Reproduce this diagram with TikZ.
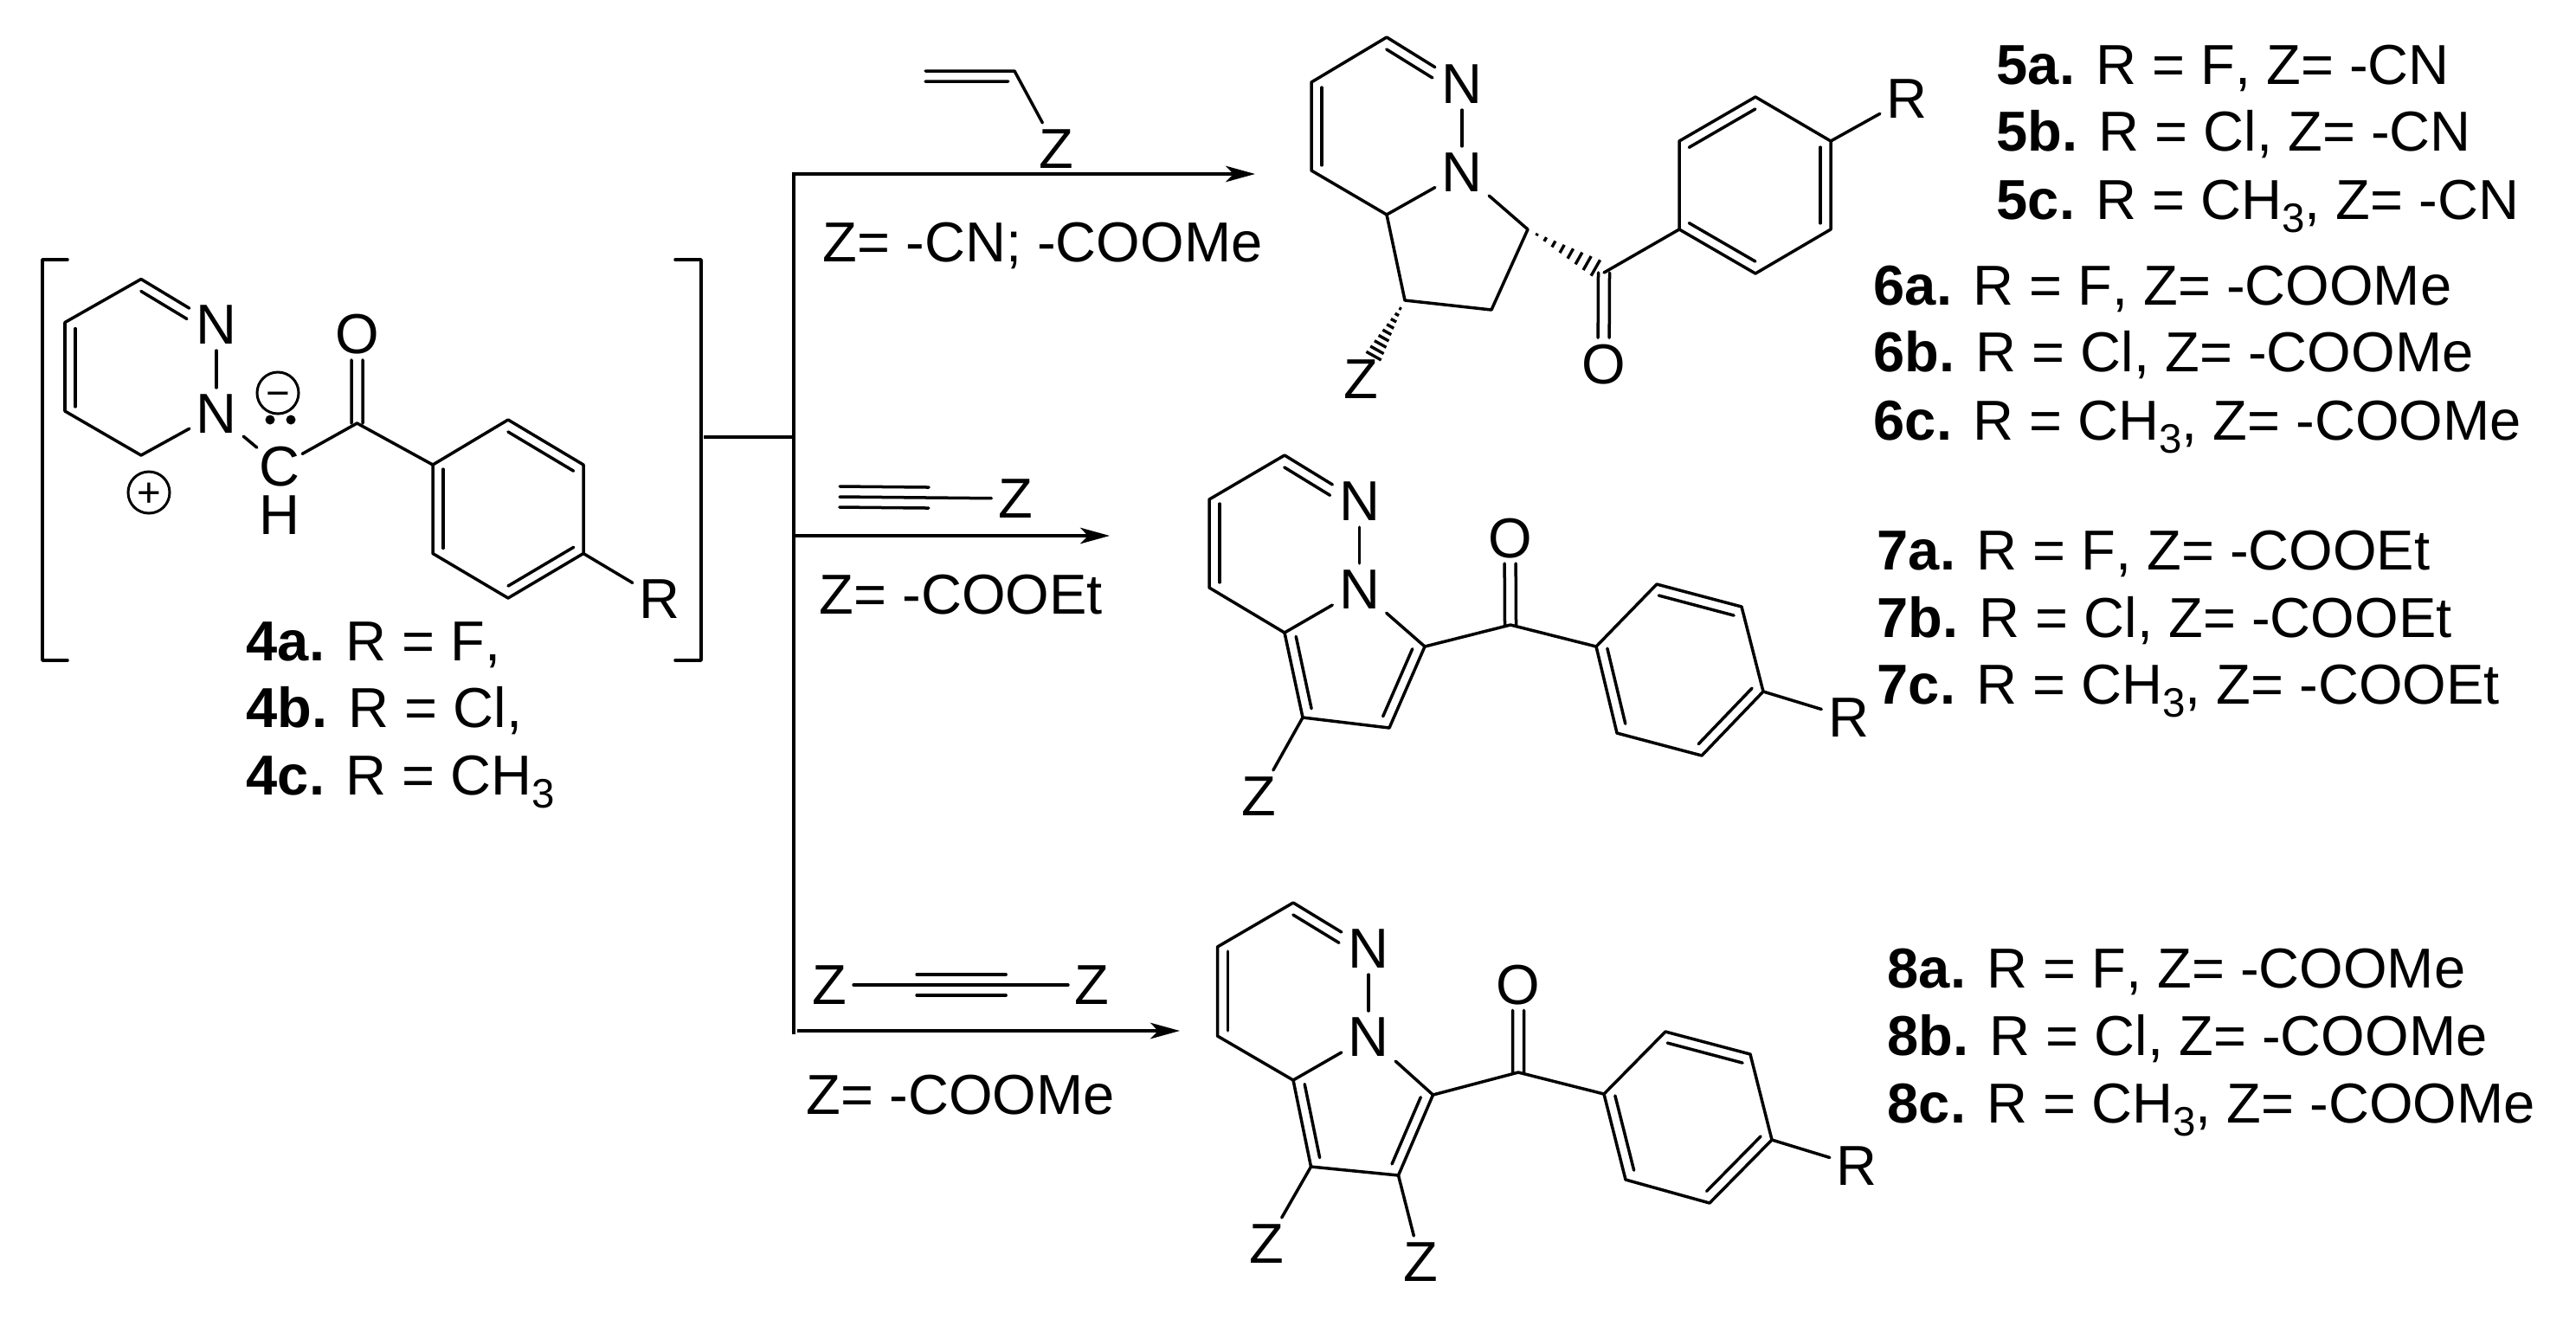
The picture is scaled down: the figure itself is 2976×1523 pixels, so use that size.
\documentclass[tikz,border=0pt]{standalone}
\usepackage{fontspec}
\setmainfont[Kerning=Off]{Liberation Sans}
\usetikzlibrary{calc,arrows.meta}
\newcommand{\dbl}[5]{\draw[bond] ($(#1)!#3!(#2)!0.12cm!#5:(#2)$) -- ($(#1)!#4!(#2)!0.12cm!#5:(#2)$);}
\newcommand{\cdo}[2]{%
  \draw[bond] ($(#1)!0!(#2)!0.065cm!90:(#2)$) -- ($(#1)!0.71!(#2)!0.065cm!90:(#2)$);
  \draw[bond] ($(#1)!0!(#2)!0.065cm!-90:(#2)$) -- ($(#1)!0.71!(#2)!0.065cm!-90:(#2)$);}
\newcommand{\hashb}[4]{%
  \coordinate (hA) at ($(#2)!#3!90:(#1)$);
  \coordinate (hB) at ($(#2)!#3!-90:(#1)$);
  \foreach \t in {#4} \draw[hashline] ($(#1)!\t!(hA)$) -- ($(#1)!\t!(hB)$);}
\newcommand{\sbt}{\raisebox{-0.15cm}{\fontsize{13.5}{16}\selectfont 3}}
\begin{document}
\begin{tikzpicture}[x=0.01cm,y=-0.01cm,
  bond/.style={line width=0.035cm,line cap=round,line join=round},
  hashline/.style={line width=0.034cm},
  conn/.style={line width=0.04cm,line join=miter},
  arr/.style={conn,-{Stealth[length=0.34cm,width=0.185cm,inset=0.09cm]}},
  atom/.style={font=\fontsize{18.5}{22}\selectfont,inner sep=0.07cm},
  tight/.style={atom,inner sep=0.02cm},
  lab/.style={font=\fontsize{18.5}{22}\selectfont,inner sep=0pt,anchor=base west},
  charge/.style={circle,draw,line width=0.03cm,minimum size=0.48cm,inner sep=0pt,text height=0.336cm,text depth=0pt,font=\fontsize{13.5}{16}\selectfont},
  lp/.style={circle,fill=black,minimum size=0.11cm,inner sep=0pt}]
\useasboundingbox (0,0) rectangle (2976,1523);

% ---------- scaffold and arrows
\coordinate (ttop) at (917,201);
\coordinate (tbot) at (917,1195);
\coordinate (e1) at (1450,201);
\coordinate (s2) at (917,619);
\coordinate (e2) at (1282,619);
\coordinate (s3) at (921,1191);
\coordinate (e3) at (1363,1191);
\coordinate (brk) at (813,505);
\coordinate (jn) at (917,505);
\draw[arr] (tbot) -- (ttop) -- (e1);
\draw[arr] (s2) -- (e2);
\draw[arr] (s3) -- (e3);
\draw[conn] (brk) -- (jn);
\draw[bond] (78,300) -- (49,300) -- (49,763) -- (78,763);
\draw[bond] (780,300) -- (810,300) -- (810,763) -- (780,763);

% ---------- compound 4
\coordinate (Aa) at (163,322.5); \coordinate (Ab) at (75,372.5);
\coordinate (Ac) at (75,475); \coordinate (Ad) at (163,526);
\coordinate (Aco) at (412.5,489);
\coordinate (Ap1) at (500,537); \coordinate (Ap2) at (587,485); \coordinate (Ap3) at (674,537);
\coordinate (Ap4) at (674,639.5); \coordinate (Ap5) at (587,691); \coordinate (Ap6) at (500,639.5);
\node[atom] (AN1) at (250,375) {N};
\node[atom] (AN2) at (250,478) {N};
\node[tight] (AC) at (323,539) {C};
\node[atom,inner sep=0pt] (AH) at (323,595) {H};
\node[atom] (AO) at (412.5,386) {O};
\node[atom] (AR) at (762,692) {R};
\node[charge] (Amin) at (321,454) {−};
\node[charge] (Apl) at (172,569) {+};
\node[lp] (Ad1) at (312,485) {};
\node[lp] (Ad2) at (336,485) {};
\draw[bond] (AN1) -- (Aa) -- (Ab) -- (Ac) -- (Ad) -- (AN2);
\draw[bond] (AN1) -- (AN2);
\draw[bond] (AN2) -- (AC);
\draw[bond] (AC) -- (Aco) -- (Ap1);
\draw[bond] (Ap1) -- (Ap2) -- (Ap3) -- (Ap4) -- (Ap5) -- (Ap6) -- cycle;
\draw[bond] (Ap4) -- (AR);
\cdo{Aco}{AO}
\dbl{Ab}{Ac}{0.07}{0.95}{90}
\dbl{Aa}{AN1}{0.07}{0.68}{-90}
\dbl{Ap1}{Ap6}{0.05}{0.94}{90}
\dbl{Ap2}{Ap3}{0.07}{0.94}{-90}
\dbl{Ap5}{Ap4}{0.07}{0.94}{90}
\node[lab] (L4a) at (284,763) {\textbf{4a.} R = F,};
\node[lab] (L4b) at (284,840) {\textbf{4b.} R = Cl,};
\node[lab] (L4c) at (284,918.5) {\textbf{4c.} R = CH\sbt};

% ---------- reagent 1
\coordinate (Va) at (1069,82); \coordinate (Vb) at (1172,82);
\node[atom] (VZ) at (1220.6,172) {Z};
\draw[bond] (Va) -- (Vb) -- (VZ);
\dbl{Va}{Vb}{0}{0.93}{-90}
\node[lab] (Lr1) at (950,302) {Z= -CN; -COOMe};

% ---------- product 5/6
\coordinate (Ba) at (1602,43); \coordinate (Bb) at (1515,95);
\coordinate (Bc) at (1515,197); \coordinate (Bj) at (1602,248);
\coordinate (Bc2) at (1765,265); \coordinate (Bc4) at (1723,358); \coordinate (Bc3) at (1623,347);
\coordinate (Bco) at (1853,315);
\coordinate (Bp1) at (1940,265); \coordinate (Bp2) at (1940,163); \coordinate (Bp3) at (2028,112);
\coordinate (Bp4) at (2115,163); \coordinate (Bp5) at (2115,265); \coordinate (Bp6) at (2028,316);
\node[atom] (BN1) at (1689,97) {N};
\node[atom] (BN2) at (1689,199) {N};
\node[atom] (BO) at (1852.5,421) {O};
\node[atom] (BR) at (2203,114) {R};
\node[atom] (BZ) at (1572,438) {Z};
\draw[bond] (BN1) -- (Ba) -- (Bb) -- (Bc) -- (Bj) -- (BN2);
\draw[bond] (BN1) -- (BN2);
\draw[bond] (BN2) -- (Bc2) -- (Bc4) -- (Bc3) -- (Bj);
\draw[bond] (Bco) -- (Bp1);
\draw[bond] (Bp1) -- (Bp2) -- (Bp3) -- (Bp4) -- (Bp5) -- (Bp6) -- cycle;
\draw[bond] (Bp4) -- (BR);
\cdo{Bco}{BO}
\dbl{Bb}{Bc}{0.06}{0.94}{90}
\dbl{Ba}{BN1}{0.07}{0.68}{-90}
\dbl{Bp2}{Bp3}{0.06}{0.93}{-90}
\dbl{Bp4}{Bp5}{0.07}{0.93}{-90}
\dbl{Bp1}{Bp6}{0.06}{0.93}{90}
\hashb{Bc2}{Bco}{0.118cm}{0.12,0.23,0.34,0.45,0.56,0.67,0.78,0.89}
\coordinate (Bzt) at ($(Bc3)!0.75!(BZ)$);
\hashb{Bc3}{Bzt}{0.105cm}{0.14,0.24,0.34,0.44,0.54,0.64,0.74,0.84,0.94}
\node[lab] (L5a) at (2306,97) {\textbf{5a.} R = F, Z= -CN};
\node[lab] (L5b) at (2306,174) {\textbf{5b.} R = Cl, Z= -CN};
\node[lab] (L5c) at (2306,253) {\textbf{5c.} R = CH\sbt, Z= -CN};
\node[lab] (L6a) at (2164,352) {\textbf{6a.} R = F, Z= -COOMe};
\node[lab] (L6b) at (2164,429) {\textbf{6b.} R = Cl, Z= -COOMe};
\node[lab] (L6c) at (2164,508) {\textbf{6c.} R = CH\sbt, Z= -COOMe};

% ---------- reagent 2
\coordinate (Ya) at (970,574);
\node[atom] (YZ) at (1173,576) {Z};
\draw[bond] (Ya) -- (YZ);
\dbl{Ya}{YZ}{0}{0.507}{90}
\dbl{Ya}{YZ}{0}{0.507}{-90}
\node[lab] (Lr2) at (946,709) {Z= -COOEt};

% ---------- product 7
\coordinate (Ca) at (1484,526); \coordinate (Cb) at (1397,577);
\coordinate (Cc) at (1397,679); \coordinate (Cj) at (1484,731);
\coordinate (Cc2) at (1646,747); \coordinate (Cc4) at (1605,841); \coordinate (Cc3) at (1505,829);
\coordinate (Cco) at (1745,722);
\coordinate (Cp1) at (1844,747); \coordinate (Cp2) at (1914,675); \coordinate (Cp3) at (2012,701);
\coordinate (Cp4) at (2037,799); \coordinate (Cp5) at (1966,873); \coordinate (Cp6) at (1868,847);
\node[atom] (CN1) at (1570.5,579) {N};
\node[atom] (CN2) at (1570.5,681) {N};
\node[atom] (CO) at (1744.5,622) {O};
\node[atom] (CR) at (2135.5,829) {R};
\node[atom] (CZ) at (1454,920) {Z};
\draw[bond] (CN1) -- (Ca) -- (Cb) -- (Cc) -- (Cj) -- (CN2);
\draw[bond] (CN1) -- (CN2);
\draw[bond] (CN2) -- (Cc2) -- (Cc4) -- (Cc3) -- (Cj);
\draw[bond] (Cc3) -- (CZ);
\draw[bond] (Cc2) -- (Cco) -- (Cp1);
\draw[bond] (Cp1) -- (Cp2) -- (Cp3) -- (Cp4) -- (Cp5) -- (Cp6) -- cycle;
\draw[bond] (Cp4) -- (CR);
\cdo{Cco}{CO}
\dbl{Cb}{Cc}{0.05}{0.94}{90}
\dbl{Ca}{CN1}{0.07}{0.68}{-90}
\dbl{Cc2}{Cc4}{0.08}{0.91}{-90}
\dbl{Cj}{Cc3}{0.07}{0.92}{90}
\dbl{Cp1}{Cp6}{0.05}{0.92}{90}
\dbl{Cp2}{Cp3}{0.055}{0.94}{-90}
\dbl{Cp4}{Cp5}{0.06}{0.93}{-90}
\node[lab] (L7a) at (2168,658) {\textbf{7a.} R = F, Z= -COOEt};
\node[lab] (L7b) at (2168,736) {\textbf{7b.} R = Cl, Z= -COOEt};
\node[lab] (L7c) at (2168,813) {\textbf{7c.} R = CH\sbt, Z= -COOEt};

% ---------- reagent 3
\node[atom] (XZ1) at (958.5,1138) {Z};
\node[atom] (XZ2) at (1261.5,1138) {Z};
\draw[bond] (XZ1) -- (XZ2);
\dbl{XZ1}{XZ2}{0.332}{0.672}{90}
\dbl{XZ1}{XZ2}{0.332}{0.672}{-90}
\node[lab] (Lr3) at (931,1287) {Z= -COOMe};

% ---------- product 8
\coordinate (Da) at (1494,1043); \coordinate (Db) at (1406.5,1094);
\coordinate (Dc) at (1406.5,1197); \coordinate (Dj) at (1494,1248);
\coordinate (Dc2) at (1655.5,1265); \coordinate (Dc4) at (1615.5,1358); \coordinate (Dc3) at (1514.5,1348);
\coordinate (Dco) at (1754,1239);
\coordinate (Dp1) at (1853,1264); \coordinate (Dp2) at (1924,1192); \coordinate (Dp3) at (2022,1218);
\coordinate (Dp4) at (2047,1317); \coordinate (Dp5) at (1975,1390); \coordinate (Dp6) at (1878,1363);
\node[atom] (DN1) at (1581,1096) {N};
\node[atom] (DN2) at (1581,1198) {N};
\node[atom] (DO) at (1754,1138) {O};
\node[atom] (DR) at (2145,1347) {R};
\node[atom] (DZ1) at (1463.5,1437) {Z};
\node[atom] (DZ2) at (1641,1458) {Z};
\draw[bond] (DN1) -- (Da) -- (Db) -- (Dc) -- (Dj) -- (DN2);
\draw[bond] (DN1) -- (DN2);
\draw[bond] (DN2) -- (Dc2) -- (Dc4) -- (Dc3) -- (Dj);
\draw[bond] (Dc3) -- (DZ1);
\draw[bond] (Dc4) -- (DZ2);
\draw[bond] (Dc2) -- (Dco) -- (Dp1);
\draw[bond] (Dp1) -- (Dp2) -- (Dp3) -- (Dp4) -- (Dp5) -- (Dp6) -- cycle;
\draw[bond] (Dp4) -- (DR);
\cdo{Dco}{DO}
\dbl{Db}{Dc}{0.05}{0.94}{90}
\dbl{Da}{DN1}{0.07}{0.68}{-90}
\dbl{Dc2}{Dc4}{0.08}{0.91}{-90}
\dbl{Dj}{Dc3}{0.07}{0.92}{90}
\dbl{Dp1}{Dp6}{0.05}{0.92}{90}
\dbl{Dp2}{Dp3}{0.055}{0.94}{-90}
\dbl{Dp4}{Dp5}{0.06}{0.93}{-90}
\node[lab] (L8a) at (2180,1141) {\textbf{8a.} R = F, Z= -COOMe};
\node[lab] (L8b) at (2180,1219) {\textbf{8b.} R = Cl, Z= -COOMe};
\node[lab] (L8c) at (2180,1297) {\textbf{8c.} R = CH\sbt, Z= -COOMe};
\end{tikzpicture}
\end{document}
